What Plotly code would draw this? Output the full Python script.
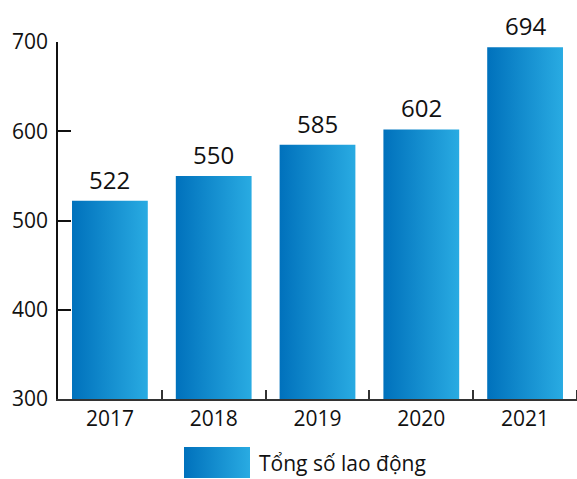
import plotly.graph_objects as go

years = ["2017", "2018", "2019", "2020", "2021"]
workers = [522, 550, 585, 602, 694]
series_name = "Tổng số lao động"
y_ticks = [300, 400, 500, 600, 700]

FONT = "Open Sans"
C_DARK = "#0071bc"
C_LIGHT = "#29abe2"
grad = dict(type="horizontal", colorscale=[[0, C_DARK], [1, C_LIGHT]])
half = 0.365

fig = go.Figure()
for i, v in enumerate(workers):
    fig.add_trace(go.Scatter(
        x=[i - half, i + half, i + half, i - half, i - half],
        y=[0, 0, v, v, 0],
        mode="lines", line=dict(width=0), fill="toself",
        fillcolor=C_DARK, fillgradient=grad,
        hoverinfo="skip", showlegend=False,
        xaxis="x", yaxis="y",
    ))
    fig.add_annotation(x=i, y=v, xref="x", yref="y", text=str(v),
                       showarrow=False, yanchor="bottom", yshift=3,
                       font=dict(family=FONT, size=24, color="#111"))

# legend swatch drawn on its own small axes
fig.add_trace(go.Scatter(
    x=[0, 1, 1, 0, 0], y=[0, 0, 1, 1, 0],
    mode="lines", line=dict(width=0), fill="toself",
    fillcolor=C_DARK, fillgradient=grad,
    hoverinfo="skip", showlegend=False,
    xaxis="x2", yaxis="y2",
))

H, W, T = 479, 577, 42
ph = H - T
fig.add_annotation(x=257 / W, y=(479 - 462.5) / ph, xref="paper", yref="paper",
                   text=series_name, showarrow=False, xanchor="left", yanchor="middle",
                   font=dict(family=FONT, size=21, color="#111"))

fig.update_layout(
    width=W, height=H,
    margin=dict(l=0, r=0, t=T, b=0, autoexpand=False),
    paper_bgcolor="white", plot_bgcolor="white",
    showlegend=False,
    font=dict(family=FONT, size=21, color="#111"),
    xaxis=dict(
        domain=[58 / W, 1], range=[-0.5, 4.5], automargin=False,
        tickvals=list(range(len(years))), ticktext=years,
        ticks="", showgrid=False, zeroline=False,
        showline=True, linecolor="#333", linewidth=1.5,
        minor=dict(tickvals=[i + 0.5 for i in range(len(years))],
                   ticks="inside", ticklen=9, tickwidth=1.5, tickcolor="#333"),
        tickfont=dict(family=FONT, size=21, color="#111"),
    ),
    yaxis=dict(
        domain=[(H - 399) / ph, 1], range=[300, 700], automargin=False,
        tickvals=y_ticks, ticks="inside", ticklen=13, tickwidth=1.5, tickcolor="#111",
        showgrid=False, zeroline=False,
        showline=True, linecolor="#111", linewidth=1.5,
        ticklabelstandoff=4,
        tickfont=dict(family=FONT, size=21, color="#111"),
    ),
    xaxis2=dict(domain=[184 / W, 250 / W], range=[0, 1], visible=False,
                fixedrange=True, automargin=False),
    yaxis2=dict(domain=[(H - 478) / ph, (H - 447) / ph], range=[0, 1], visible=False,
                anchor="x2", fixedrange=True, automargin=False),
)
fig.update_layout(xaxis2_anchor="y2")

fig.write_html("out.html", config={"displayModeBar": False},
               post_script="document.body.style.margin='0';")
